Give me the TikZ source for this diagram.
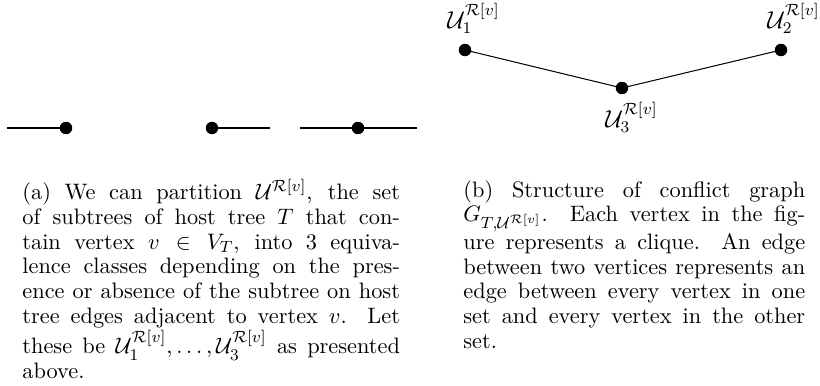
\documentclass[tikz,border=0pt]{standalone}
\usepackage{amssymb}
\begin{document}
\begin{tikzpicture}[x=0.49pt,y=-0.49pt,
  vdot/.style={circle,fill=black,draw=none,inner sep=0pt,minimum size=6pt},
  edgeline/.style={line width=0.5pt},
  vlabel/.style={inner sep=0pt,anchor=base west,font=\fontsize{11.5pt}{12pt}\selectfont},
  captxt/.style={anchor=north west,inner sep=0pt,align=justify,font=\fontsize{10.95pt}{12.1pt}\selectfont}]
\useasboundingbox (0,0) rectangle (820,385);
% (a) left figure
\coordinate (a1) at (7,128);
\node[vdot] (d1) at (66,128) {};
\node[vdot] (d2) at (212,128) {};
\coordinate (a2) at (270,128);
\coordinate (a3) at (300,128);
\node[vdot] (d3) at (358,128) {};
\coordinate (a4) at (417,128);
\draw[edgeline] (a1) -- (d1.center);
\draw[edgeline] (d2.center) -- (a2);
\draw[edgeline] (a3) -- (a4);
\node[vdot] at (d1) {};
\node[vdot] at (d2) {};
\node[vdot] at (d3) {};
% (b) right figure
\node[vdot] (u1) at (465,50) {};
\node[vdot] (u2) at (781,50) {};
\node[vdot] (u3) at (622,88) {};
\draw[edgeline] (u1.center) -- (u3.center) -- (u2.center);
\node[vdot] at (u1) {};
\node[vdot] at (u2) {};
\node[vdot] at (u3) {};
\node[vlabel] (l1) at (447,28) {$\mathcal{U}_1^{\mathcal{R}[v]}$};
\node[vlabel] (l2) at (767,28) {$\mathcal{U}_2^{\mathcal{R}[v]}$};
\node[vlabel] (l3) at (605,127) {$\mathcal{U}_3^{\mathcal{R}[v]}$};
% captions
\node[captxt,text width=185pt] (ca) at (22,179) {(a) We can partition $\mathcal{U}^{\mathcal{R}[v]}$, the set\linebreak
of subtrees of host tree $T$ that con-\linebreak
tain vertex $v \in V_T$, into 3 equiva-\linebreak
lence classes depending on the pres-\linebreak
ence or absence of the subtree on host\linebreak
tree edges adjacent to vertex $v$. Let\linebreak
these be $\mathcal{U}_1^{\mathcal{R}[v]},\ldots,\mathcal{U}_3^{\mathcal{R}[v]}$ as presented\linebreak
above.};
\node[captxt,text width=167.5pt] (cb) at (463,180) {(b) Structure of conflict graph\linebreak
$G_{T,\mathcal{U}^{\mathcal{R}[v]}}$. Each vertex in the fig-\linebreak
ure represents a clique. An edge\linebreak
between two vertices represents an\linebreak
edge between every vertex in one\linebreak
set and every vertex in the other\linebreak
set.};
\end{tikzpicture}
\end{document}
